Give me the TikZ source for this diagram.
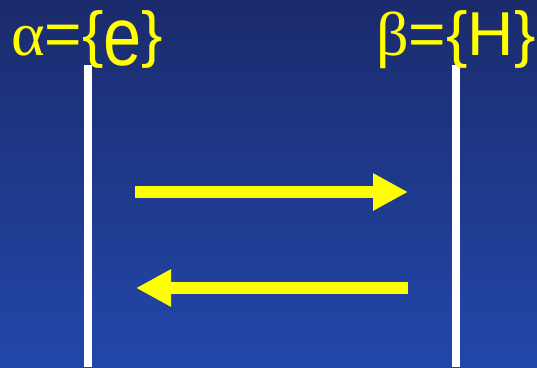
\documentclass[tikz,border=0pt]{standalone}
\usepackage{fontspec}
\setmainfont{Liberation Sans}
\newfontfamily\greekfont{Liberation Serif}
\usetikzlibrary{arrows.meta}
\definecolor{bgtop}{RGB}{27,43,108}
\definecolor{bgbot}{RGB}{34,71,170}
\definecolor{ylw}{RGB}{255,255,0}
\newcommand{\bigE}{\raisebox{-10pt}{\scalebox{1.07}[1.34]{e}}}
\tikzset{
  lbl/.style={text=ylw, inner sep=0pt, anchor=base west, font=\fontsize{62}{62}\selectfont},
  wall/.style={draw=white, line width=8pt},
  flow/.style={draw=ylw, line width=12pt, -{Triangle[length=35pt,width=35pt]}}
}
\begin{document}
\begin{tikzpicture}[x=1pt,y=-1pt]
\shade[top color=bgtop, bottom color=bgbot] (0,0) rectangle (537,367);
\useasboundingbox (0,0) rectangle (537,367);
% walls
\coordinate (lt) at (87.5,65);
\coordinate (lb) at (87.5,367);
\coordinate (rt) at (455.5,65);
\coordinate (rb) at (455.5,367);
\draw[wall] (lt) -- (lb);
\draw[wall] (rt) -- (rb);
% labels
\node[lbl] (alpha) at (11,55.5) {\scalebox{1.035}[1]{{\greekfont α}=\{\bigE\}}};
\node[lbl] (beta) at (376,55) {\scalebox{1.035}[1]{{\greekfont β}=\{H\}}};
% arrows
\coordinate (a1) at (135,192);
\coordinate (a2) at (408,192);
\coordinate (b1) at (408,288);
\coordinate (b2) at (136,288);
\draw[flow] (a1) -- (a2);
\draw[flow] (b1) -- (b2);
\end{tikzpicture}
\end{document}
